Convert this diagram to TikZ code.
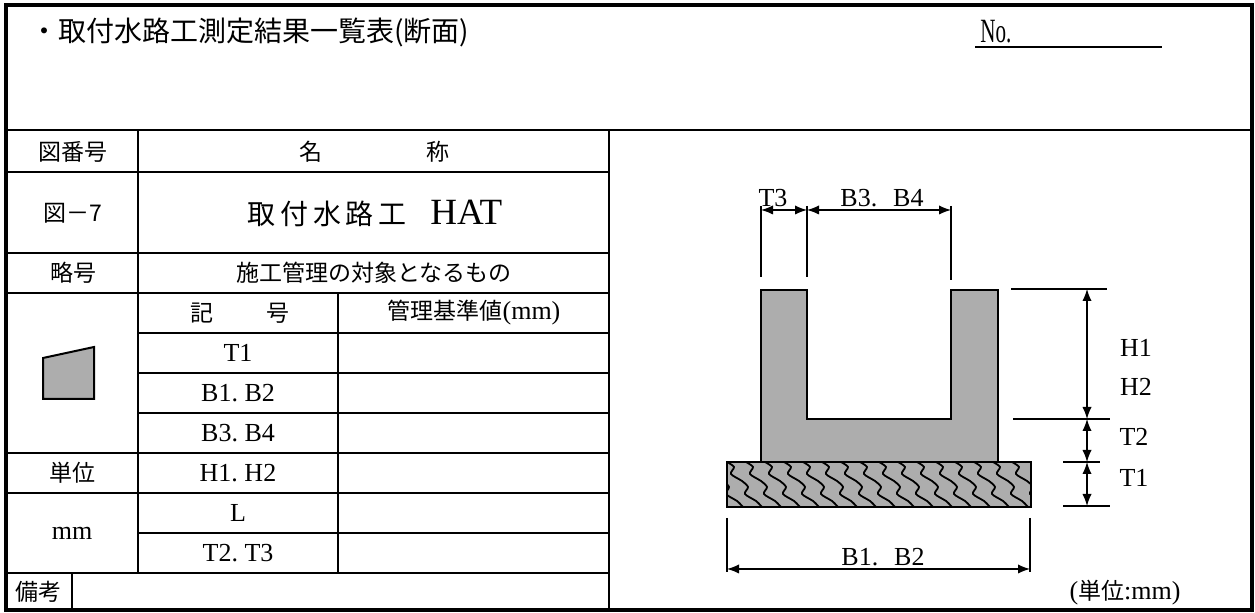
\documentclass[tikz,border=0pt]{standalone}
\usepackage{fontspec}
\setmainfont{Liberation Serif}
\newfontfamily\jp{Noto Sans CJK JP}
\usetikzlibrary{arrows.meta,positioning}

\begin{document}
\begin{tikzpicture}[x=0.5pt,y=-0.5pt,
  cell/.style={font=\fontsize{13}{14}\selectfont, inner sep=0pt},
  jpcell/.style={font=\fontsize{11.5}{12}\selectfont\jp, inner sep=0pt},
  grid/.style={line width=1pt},
  thin/.style={line width=0.6pt},
  dim/.style={line width=0.6pt, {Latex[length=6pt,width=4.6pt]}-{Latex[length=6pt,width=4.6pt]}},
  concrete/.style={fill=black!32, draw=black, line width=0.6pt}]

\useasboundingbox (0,0) rectangle (1255,613);

\draw[line width=1.6pt] (6,5) rectangle (1252,610);
\draw[grid] (6,130) -- (1252,130);
\draw[grid] (609,130) -- (609,610);
\draw[grid] (138,130) -- (138,573);
\draw[grid] (338,293) -- (338,573);
\draw[grid] (72,573) -- (72,610);
\draw[grid] (6,172) -- (609,172);
\draw[grid] (6,253) -- (609,253);
\draw[grid] (6,293) -- (609,293);
\draw[grid] (138,333) -- (609,333);
\draw[grid] (138,373) -- (609,373);
\draw[grid] (138,413) -- (609,413);
\draw[grid] (6,453) -- (609,453);
\draw[grid] (6,493) -- (609,493);
\draw[grid] (138,533) -- (609,533);
\draw[grid] (6,573) -- (609,573);

\node (title) [anchor=west, inner sep=0pt, font=\fontsize{14}{15}\selectfont\jp] at (30,32) {・取付水路工測定結果一覧表(断面)};
\node (no) [anchor=south west, inner sep=1pt, font=\fontsize{17}{18}\selectfont] at (978,45) {\scalebox{0.62}[1]{No.}};
\coordinate (noL) at (975,47);
\coordinate (noR) at (1162,47);
\draw[line width=1pt] (noL) -- (noR);

\node (hdrfig) [jpcell] at (73,152) {図番号};
\node (hdrname) [jpcell] at (374,152) {名\hspace{52pt}称};
\node (fignum) [jpcell] at (73,213) {図－7};
\node (figname) [inner sep=0pt] at (375,213) {{\fontsize{14}{15}\selectfont\jp 取\,付\,水\,路\,工}\hspace{12pt}{\fontsize{18.5}{19}\selectfont HAT}};
\node (abbr) [jpcell] at (73,273) {略号};
\node (target) [jpcell] at (374,273) {施工管理の対象となるもの};
\node (symhdr) [jpcell] at (240,313) {記\hspace{27pt}号};
\node (stdhdr) [cell] at (474,313) {{\fontsize{11.5}{12}\selectfont\jp 管理基準値}(mm)};

\node (symT1) [cell] at (238,353) {T1};
\node (symB1) [cell] at (238,393) {B1.~B2};
\node (symB3) [cell] at (238,433) {B3.~B4};
\node (symH1) [cell] at (238,473) {H1.~H2};
\node (symL)  [cell] at (238,513) {L};
\node (symT2) [cell] at (238,553) {T2.~T3};

\draw[concrete, line width=1pt] (43,358) -- (94,347) -- (94,399) -- (43,399) -- cycle;
\node (unit) [jpcell] at (72,473) {単位};
\node (unitmm) [cell] at (72,533) {mm};
\node (remark) [jpcell] at (39,592) {備考};

\draw[concrete] (761,290) -- (807,290) -- (807,419) -- (951,419) -- (951,290) -- (998,290) -- (998,462) -- (761,462) -- cycle;
\fill[black!32] (727,462) rectangle (1031,507);
\begin{scope}
\clip (727,462) rectangle (1031,507);
\foreach \i [evaluate=\i as \x using 727+19*\i] in {-3,...,16}
  \draw[line width=0.9pt] plot[smooth] coordinates {(\x,462) ({\x+7},467) ({\x+4},474) ({\x+15},481) ({\x+21},487) ({\x+18},494) ({\x+29},501) ({\x+35},507)};
\end{scope}
\draw[line width=1pt] (727,462) rectangle (1031,507);

\coordinate (eA1) at (761,206);
\coordinate (eA2) at (761,277);
\coordinate (eB1) at (807,206);
\coordinate (eB2) at (807,277);
\coordinate (eC1) at (951,206);
\coordinate (eC2) at (951,280);
\draw[thin] (eA1) -- (eA2);
\draw[thin] (eB1) -- (eB2);
\draw[thin] (eC1) -- (eC2);
\coordinate (dA) at (761,210);
\coordinate (dB) at (807,210);
\coordinate (dC) at (951,210);
\draw[dim] (dA) -- (dB);
\draw[dim] (dB) -- (dC);
\node (lblT3) [cell] at (773,198) {T3};
\node (lblB3) [cell] at (882,198) {B3.\hspace{8pt}B4};

\coordinate (hTop1) at (1011,289);
\coordinate (hTop2) at (1107,289);
\coordinate (hMid1) at (1013,419);
\coordinate (hMid2) at (1110,419);
\coordinate (hLow1) at (1063,462);
\coordinate (hLow2) at (1100,462);
\coordinate (hBot1) at (1063,506);
\coordinate (hBot2) at (1110,506);
\draw[thin] (hTop1) -- (hTop2);
\draw[thin] (hMid1) -- (hMid2);
\draw[thin] (hLow1) -- (hLow2);
\draw[thin] (hBot1) -- (hBot2);
\coordinate (vH) at (1087,289);
\coordinate (vM) at (1087,419);
\coordinate (vL) at (1087,462);
\coordinate (vB) at (1087,506);
\draw[dim] (vH) -- (vM);
\draw[dim] (vM) -- (vL);
\draw[dim] (vL) -- (vB);
\node (lblH1) [cell] at (1136,348) {H1};
\node (lblH2) [cell] at (1136,387) {H2};
\node (lblT2) [cell] at (1134,437) {T2};
\node (lblT1) [cell] at (1134,478) {T1};

\coordinate (bL1) at (727,518);
\coordinate (bL2) at (727,572);
\coordinate (bR1) at (1030,518);
\coordinate (bR2) at (1030,572);
\draw[thin] (bL1) -- (bL2);
\draw[thin] (bR1) -- (bR2);
\coordinate (bA) at (727,569);
\coordinate (bB) at (1030,569);
\draw[dim] (bA) -- (bB);
\node (lblB1) [cell] at (883,557) {B1.\hspace{8pt}B2};
\node (lblunit) [cell] at (1125,593) {({\fontsize{11.5}{12}\selectfont\jp 単位}:mm)};
\end{tikzpicture}
\end{document}
